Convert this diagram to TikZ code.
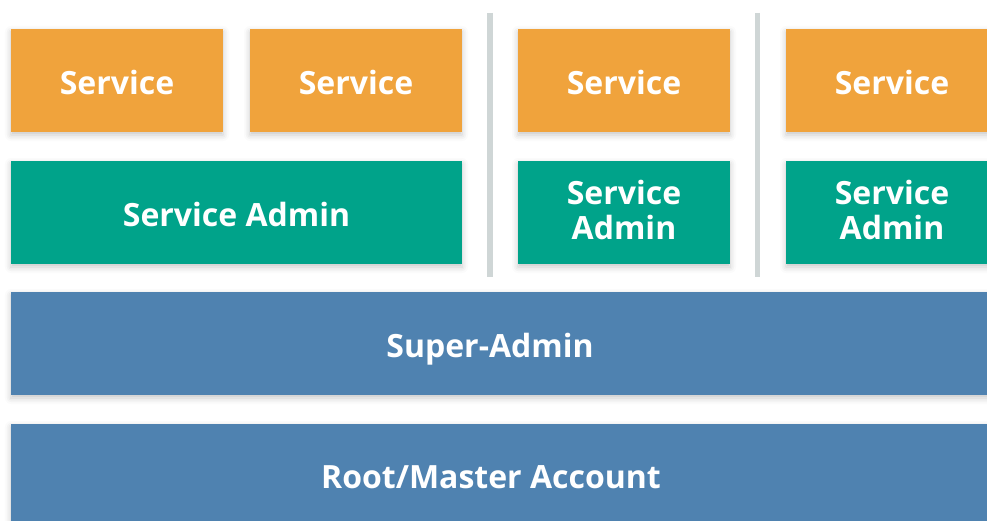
\documentclass[tikz,border=0pt]{standalone}
\usepackage{fontspec}
\setmainfont{Open Sans}
\usetikzlibrary{shadows.blur}
\definecolor{svcorange}{HTML}{F0A33C}
\definecolor{admgreen}{HTML}{00A38A}
\definecolor{supblue}{HTML}{4F82B0}
\definecolor{sepgray}{HTML}{CFD6D6}
\begin{document}
\begin{tikzpicture}[x=1pt,y=-1pt,
  box/.style={draw=none, blur shadow={shadow xshift=0pt, shadow yshift=-3pt, shadow blur radius=6pt, shadow opacity=22}},
  lbl/.style={inner sep=0pt, anchor=base, text=white, font=\bfseries\fontsize{32}{35}\selectfont, align=center},
  svc/.style={box, fill=svcorange},
  adm/.style={box, fill=admgreen},
  sup/.style={box, fill=supblue},
  sep/.style={draw=sepgray, line width=5.5pt}]
\useasboundingbox (0,0) rectangle (987,521);
% separators
\coordinate (s1t) at (490,13); \coordinate (s1b) at (490,277);
\coordinate (s2t) at (757.5,13); \coordinate (s2b) at (757.5,277);
\draw[sep] (s1t) -- (s1b);
\draw[sep] (s2t) -- (s2b);
% boxes
\path[svc] (11,29) rectangle (223,132);
\path[svc] (250,29) rectangle (462,132);
\path[svc] (518,29) rectangle (730,132);
\path[svc] (786,29) rectangle (998,132);
\path[adm] (11,161) rectangle (462,264);
\path[adm] (518,161) rectangle (730,264);
\path[adm] (786,161) rectangle (998,264);
\path[sup] (11,292) rectangle (998,395);
\path[sup] (11,424) rectangle (998,530);
% labels
\node[lbl] (svc1) at (117,95) {Service};
\node[lbl] (svc2) at (356,95) {Service};
\node[lbl] (svc3) at (624,95) {Service};
\node[lbl] (svc4) at (892,95) {Service};
\node[lbl] (adm1) at (236.5,227) {Service Admin};
\node[lbl] (adm2) at (624,240) {Service\\Admin};
\node[lbl] (adm3) at (892,240) {Service\\Admin};
\node[lbl] (super) at (490,357) {Super-Admin};
\node[lbl] (root) at (491,488) {Root/Master Account};
\end{tikzpicture}
\end{document}
